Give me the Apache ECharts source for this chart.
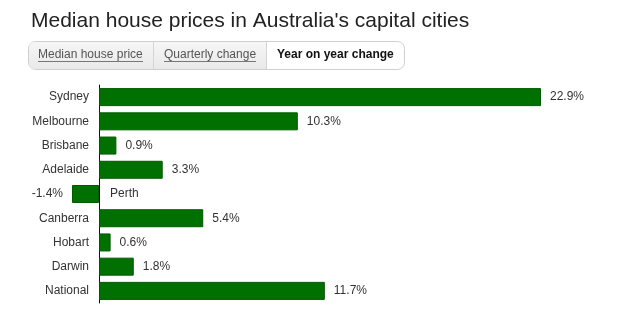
<!DOCTYPE html>
<html>
<head>
<meta charset="utf-8">
<script src="https://cdn.jsdelivr.net/npm/echarts@6/dist/echarts.min.js"></script>
<style>
html,body{margin:0;padding:0;background:#fff;}
#chart{width:640px;height:328px;}
</style>
</head>
<body>
<div id="chart"></div>
<script>
var categories = ['Sydney','Melbourne','Brisbane','Adelaide','Perth','Canberra','Hobart','Darwin','National'];
var values = [22.9, 10.3, 0.9, 3.3, -1.4, 5.4, 0.6, 1.8, 11.7];
var tabs = ['Median house price','Quarterly change','Year on year change'];

var FONT = "'Liberation Sans', Arial, Helvetica, sans-serif";
var chart = echarts.init(document.getElementById('chart'), null, {renderer:'canvas'});

var barData = values.map(function(v){
  return {
    value: v,
    label: { position: v < 0 ? 'left' : 'right' }
  };
});
var nameData = values.map(function(v, i){
  return v < 0 ? { value: 0, label: { show: true } } : { value: 0, label: { show: false } };
});

var tabX = [28, 153, 266, 404];
var graphics = [];
graphics.push({
  type: 'rect', shape: { x: tabX[0] + 0.5, y: 41.5, width: tabX[3] - tabX[0], height: 28, r: [7,7,7,7] },
  style: { fill: '#ffffff', stroke: '#cfcfcf', lineWidth: 1 }, z: 1
});
for (var t = 0; t < 2; t++) {
  graphics.push({
    type: 'rect',
    shape: { x: tabX[t] + 1, y: 42, width: tabX[t+1] - tabX[t] - 1, height: 27, r: t === 0 ? [6,0,0,6] : 0 },
    style: { fill: new echarts.graphic.LinearGradient(0,0,0,1,[{offset:0,color:'#f6f6f6'},{offset:1,color:'#e9e9e9'}]) },
    z: 2
  });
  graphics.push({
    type: 'line', shape: { x1: tabX[t+1] + 0.5, y1: 42, x2: tabX[t+1] + 0.5, y2: 69 },
    style: { stroke: '#d4d4d4', lineWidth: 1 }, z: 3
  });
}
var tabTextX = [38, 164, 277];
for (var k = 0; k < tabs.length; k++) {
  var sel = k === 2;
  graphics.push({
    type: 'text', x: tabTextX[k], y: 55, z: 4,
    style: {
      text: tabs[k], fill: sel ? '#111' : '#555',
      font: (sel ? 'bold 12px ' : '12px ') + FONT,
      textVerticalAlign: 'middle', verticalAlign: 'middle'
    }
  });
}
graphics.push({ type:'line', shape:{x1:38, y1:61.5, x2:143, y2:61.5}, style:{stroke:'#777', lineWidth:1}, z:4 });
graphics.push({ type:'line', shape:{x1:164, y1:61.5, x2:256, y2:61.5}, style:{stroke:'#777', lineWidth:1}, z:4 });

chart.setOption({
  animation: false,
  title: {
    text: "Median house prices in Australia's capital cities",
    left: 26, top: 6,
    textStyle: { fontFamily: FONT, fontSize: 21, fontWeight: 'normal', color: '#222' }
  },
  grid: { left: 72, right: 99, top: 85, bottom: 25, containLabel: false },
  xAxis: {
    type: 'value', min: -1.4, max: 22.9, show: false
  },
  yAxis: {
    type: 'category', data: categories, inverse: true,
    axisLine: { show: true, onZero: true, lineStyle: { color: '#111', width: 1 } },
    axisTick: { show: false },
    splitLine: { show: false },
    axisLabel: {
      margin: -17, color: '#333', fontSize: 12, fontFamily: FONT,
      formatter: function(v){ var i = categories.indexOf(v); return values[i] < 0 ? '' : v; }
    }
  },
  series: [
    {
      type: 'bar', data: barData, barWidth: 18,
      itemStyle: { color: '#007000', borderColor: '#005a00', borderWidth: 1 },
      label: {
        show: true, distance: 9, color: '#333', fontSize: 12, fontFamily: FONT,
        formatter: function(p){ return p.value + '%'; }
      },
      z: 2
    },
    {
      type: 'bar', data: nameData, barWidth: 18, barGap: '-100%',
      itemStyle: { color: 'transparent' },
      label: {
        position: 'right', distance: 11, color: '#333', fontSize: 12, fontFamily: FONT,
        formatter: function(p){ return p.name; }
      },
      z: 3
    }
  ],
  graphic: graphics
});
</script>
</body>
</html>
